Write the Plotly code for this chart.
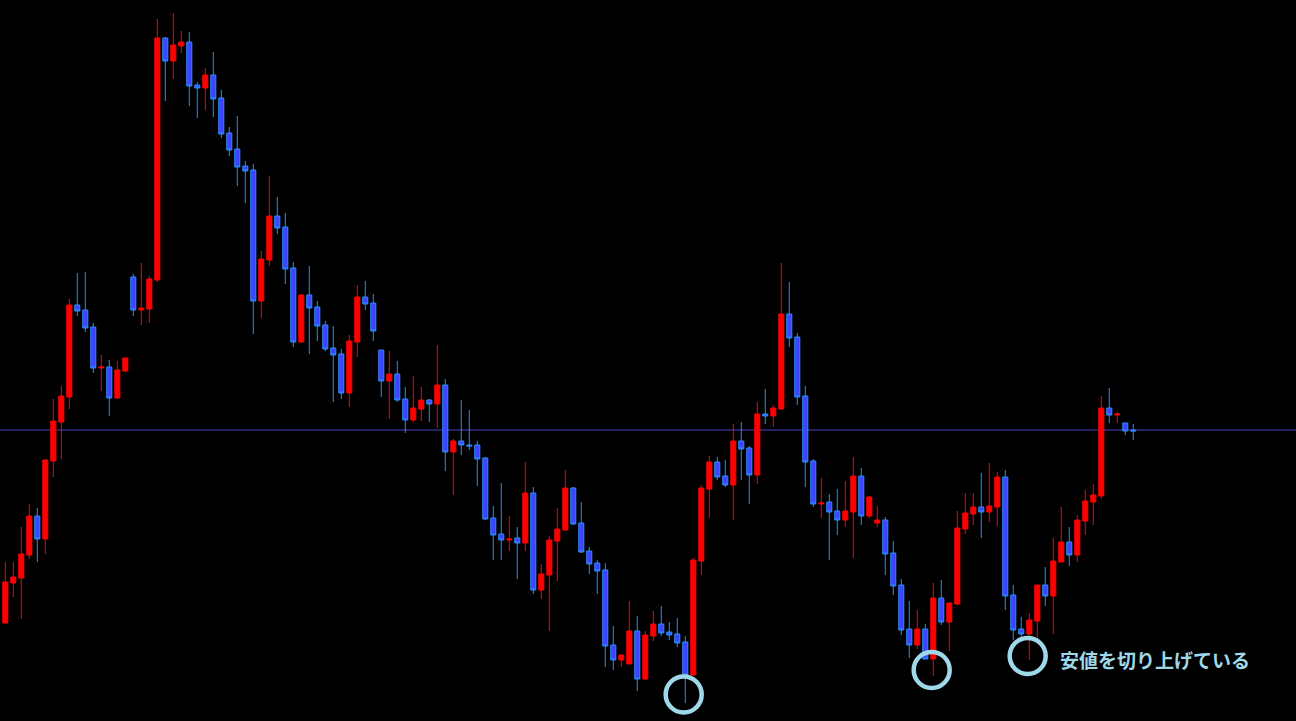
import plotly.graph_objects as go

# ---- data (candles, oldest -> newest) ----
opens = [98, 138, 143, 166, 205, 182, 260, 299, 324, 416,
         411, 394, 353, 354, 323, 350, 444, 411, 412, 441,
         683, 660, 675, 679, 636, 633, 646, 623, 588, 572,
         555, 551, 420, 461, 505, 494, 453, 379, 426, 414,
         396, 373, 367, 328, 379, 424, 418, 371, 340, 347,
         322, 301, 312, 321, 317, 336, 269, 280, 276, 276,
         263, 203, 187, 181, 183, 178, 228, 131, 146, 180,
         191, 233, 198, 170, 158, 151, 76, 61, 57, 90,
         42, 85, 97, 89, 87, 79, 46, 160, 232, 259,
         245, 236, 280, 273, 246, 307, 305, 312, 407, 384,
         325, 260, 217, 219, 210, 201, 209, 245, 205, 198,
         201, 168, 136, 92, 76, 92, 62, 123, 99, 117,
         192, 207, 214, 209, 214, 244, 126, 92, 87, 100,
         136, 125, 159, 179, 166, 200, 219, 225, 313, 306,
         298, 291]
highs = [159, 159, 194, 217, 213, 262, 322, 335, 422, 448,
         449, 398, 366, 361, 360, 363, 447, 458, 445, 702,
         684, 708, 690, 689, 639, 653, 669, 631, 594, 605,
         560, 557, 470, 545, 524, 508, 459, 427, 455, 420,
         400, 395, 372, 386, 436, 440, 427, 371, 370, 360,
         334, 345, 334, 322, 376, 342, 282, 321, 311, 280,
         264, 215, 238, 205, 194, 259, 234, 157, 185, 213,
         251, 234, 219, 174, 161, 158, 95, 66, 120, 105,
         90, 110, 115, 99, 103, 85, 163, 236, 265, 264,
         261, 297, 299, 275, 319, 332, 316, 458, 439, 388,
         335, 262, 243, 227, 232, 240, 264, 253, 225, 215,
         204, 180, 142, 120, 111, 97, 138, 141, 119, 210,
         228, 228, 248, 258, 249, 251, 136, 104, 108, 136,
         154, 183, 214, 194, 206, 231, 237, 325, 333, 309,
         298, 297]
lows = [98, 124, 102, 162, 159, 167, 244, 262, 312, 405,
        389, 348, 330, 305, 322, 349, 405, 396, 398, 439,
        620, 642, 668, 615, 603, 611, 604, 583, 565, 535,
        518, 387, 403, 455, 487, 437, 374, 378, 367, 380,
        370, 319, 322, 314, 364, 411, 380, 324, 302, 319,
        288, 299, 300, 299, 293, 250, 226, 266, 271, 235,
        201, 161, 161, 170, 142, 170, 127, 122, 90, 140,
        190, 196, 168, 147, 127, 54, 51, 54, 57, 30,
        41, 80, 85, 81, 74, 18, 45, 146, 203, 241,
        234, 201, 241, 217, 237, 297, 294, 311, 374, 316,
        234, 214, 203, 161, 186, 194, 163, 196, 203, 194,
        146, 126, 86, 63, 72, 62, 45, 96, 70, 116,
        187, 196, 183, 199, 195, 111, 81, 84, 61, 81,
        115, 87, 159, 155, 159, 186, 196, 222, 298, 298,
        286, 281]
closes = [139, 144, 167, 205, 182, 261, 300, 325, 416, 410,
          393, 353, 354, 323, 351, 363, 411, 413, 442, 683,
          660, 676, 679, 635, 633, 646, 622, 587, 571, 554,
          550, 420, 462, 505, 493, 452, 379, 426, 413, 395,
          372, 366, 328, 380, 424, 417, 390, 340, 347, 321,
          301, 313, 321, 317, 336, 269, 280, 276, 275, 262,
          202, 186, 181, 182, 178, 228, 131, 147, 181, 192,
          233, 197, 169, 157, 150, 75, 61, 66, 90, 42,
          86, 97, 88, 86, 78, 46, 161, 233, 259, 244,
          236, 280, 272, 246, 307, 305, 313, 407, 383, 324,
          259, 217, 218, 209, 201, 210, 245, 205, 224, 201,
          167, 135, 91, 76, 92, 62, 123, 99, 118, 193,
          208, 214, 209, 215, 244, 125, 91, 87, 101, 136,
          125, 160, 179, 166, 201, 220, 226, 313, 306, 307,
          290, 290]
bars = list(range(len(opens)))

ref_level = 291                      # horizontal reference line
marked_bars = [85, 116, 128]         # lows that are circled
note_text = "安値を切り上げている"

RED = "#ff0000"
BLUE_LINE = "#2a8cff"
BLUE_FILL = "#3c46ff"
CIRCLE = "#9fd8e8"
circle_lift = [8.5, 6, 4]            # circle centre above the low (value units)

fig = go.Figure()
fig.add_trace(go.Candlestick(
    x=bars, open=opens, high=highs, low=lows, close=closes,
    increasing=dict(line=dict(color=RED, width=1), fillcolor=RED),
    decreasing=dict(line=dict(color=BLUE_LINE, width=1), fillcolor=BLUE_FILL),
    whiskerwidth=0, hoverinfo="skip", showlegend=False,
))

shapes = [dict(type="line", xref="paper", x0=0, x1=1, yref="y",
               y0=ref_level, y1=ref_level,
               line=dict(color="#4b44c8", width=1), layer="below")]
for b, lift in zip(marked_bars, circle_lift):
    shapes.append(dict(
        type="circle", xref="x", yref="y",
        xsizemode="pixel", ysizemode="pixel",
        xanchor=b - 0.2, yanchor=lows[b] + lift,
        x0=-18, x1=18, y0=-18, y1=18,
        line=dict(color=CIRCLE, width=4.5), fillcolor="rgba(0,0,0,0)",
    ))

last = marked_bars[-1]
fig.update_layout(
    width=1296, height=721,
    margin=dict(l=0, r=0, t=0, b=0),
    paper_bgcolor="#000000", plot_bgcolor="#000000",
    showlegend=False,
    boxgap=0.3, boxgroupgap=0.1,
    shapes=shapes,
    annotations=[dict(
        x=last - 0.2, y=lows[last] + circle_lift[-1], xref="x", yref="y",
        xanchor="left", yanchor="middle", xshift=30, yshift=-3,
        text=note_text, showarrow=False,
        font=dict(family="Noto Sans CJK JP", size=19, color=CIRCLE, weight="bold"),
    )],
    xaxis=dict(range=[-0.6625, 161.34], visible=False, showgrid=False,
               zeroline=False, rangeslider=dict(visible=False), fixedrange=True),
    yaxis=dict(range=[0, 721], visible=False, showgrid=False,
               zeroline=False, fixedrange=True),
)

fig.write_html("out.html", config={"displayModeBar": False},
               post_script="document.body.style.margin='0';document.body.style.background='#000';document.body.style.overflow='hidden';")
